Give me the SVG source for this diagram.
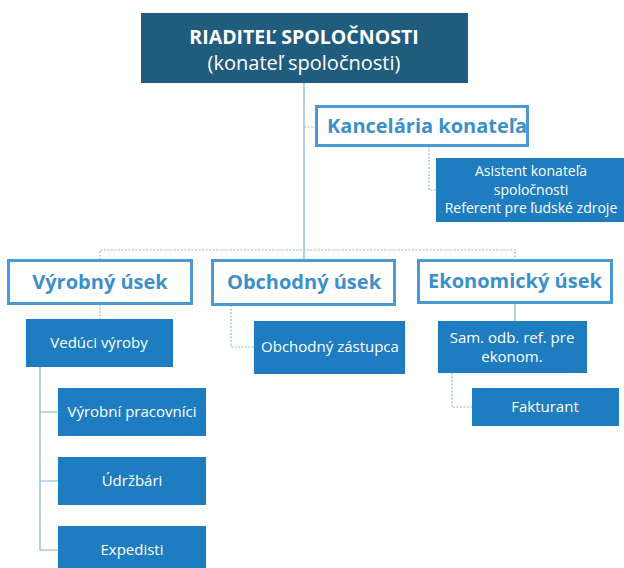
<svg xmlns="http://www.w3.org/2000/svg" width="624" height="568" viewBox="0 0 624 568">
<style>
.dark{fill:#1f5c7e}
.fill{fill:#1d7dc0}
.outline{fill:#ffffff;stroke:#4a9bd3;stroke-width:3}
.wt{fill:#ffffff;font-family:"Open Sans","Liberation Sans",sans-serif;text-anchor:middle}
.bt{fill:#3d8fca;font-family:"Open Sans","Liberation Sans",sans-serif;font-weight:bold;text-anchor:middle;font-size:20px}
.small{font-size:15px}
.conn{fill:none;stroke:#7fb3d9;stroke-width:1.2}
.dot{fill:none;stroke:#8bbbe0;stroke-width:1.2;stroke-dasharray:2 1.5}
</style>
<rect width="624" height="568" fill="#ffffff"/>
<g id="connectors">
<path class="conn" d="M304 83 V260"/>
<path class="dot" d="M304 127 H316"/>
<path class="dot" d="M100 260 V250 H515 V260"/>
<path class="dot" d="M429 146 V190 H436"/>
<path class="dot" d="M100 304 V319"/>
<path class="conn" d="M40 367 V550 H59 M40 412 H59 M40 481 H59"/>
<path class="dot" d="M231 305 V347 H254"/>
<path class="conn" d="M515 303 V321"/>
<path class="dot" d="M452 373 V407 H472"/>
</g>
<g id="riaditel">
<rect class="dark" x="141" y="13" width="327" height="70"/>
<text class="wt" x="304" y="44" font-size="19.5" font-weight="bold">RIADITEĽ SPOLOČNOSTI</text>
<text class="wt" x="304" y="70" font-size="20">(konateľ spoločnosti)</text>
</g>
<g id="kancelaria">
<rect class="outline" x="316.5" y="106.5" width="211" height="39"/>
<text class="bt" x="427" y="133" font-size="19">Kancelária konateľa</text>
</g>
<g id="asistent">
<rect class="fill" x="436" y="158" width="190" height="64"/>
<text class="wt" x="531" y="176" font-size="14">Asistent konateľa</text>
<text class="wt" x="531" y="194.5" font-size="14">spoločnosti</text>
<text class="wt" x="531" y="213" font-size="14">Referent pre ľudské zdroje</text>
</g>
<g id="vyrobny">
<rect class="outline" x="8.5" y="260.5" width="183" height="43"/>
<text class="bt" x="100" y="289">Výrobný úsek</text>
</g>
<g id="obchodny">
<rect class="outline" x="212.5" y="260.5" width="182" height="44"/>
<text class="bt" x="304" y="289">Obchodný úsek</text>
</g>
<g id="ekonomicky">
<rect class="outline" x="418.5" y="260.5" width="193" height="42"/>
<text class="bt" x="515" y="288" font-size="19">Ekonomický úsek</text>
</g>
<g id="veduci">
<rect class="fill" x="26" y="319" width="147" height="48"/>
<text class="wt small" x="99" y="348">Vedúci výroby</text>
</g>
<g id="pracovnici">
<rect class="fill" x="58" y="388" width="148" height="48"/>
<text class="wt small" x="132" y="417">Výrobní pracovníci</text>
</g>
<g id="udrzbari">
<rect class="fill" x="58" y="457" width="148" height="48"/>
<text class="wt small" x="132" y="486">Údržbári</text>
</g>
<g id="expedisti">
<rect class="fill" x="58" y="526" width="148" height="48"/>
<text class="wt small" x="132" y="555">Expedisti</text>
</g>
<g id="zastupca">
<rect class="fill" x="254" y="321" width="151" height="53"/>
<text class="wt small" x="330" y="352">Obchodný zástupca</text>
</g>
<g id="samodb">
<rect class="fill" x="438" y="321" width="149" height="52"/>
<text class="wt small" x="512" y="343">Sam. odb. ref. pre</text>
<text class="wt small" x="512" y="362">ekonom.</text>
</g>
<g id="fakturant">
<rect class="fill" x="472" y="388" width="147" height="38"/>
<text class="wt small" x="545" y="412">Fakturant</text>
</g>
</svg>
